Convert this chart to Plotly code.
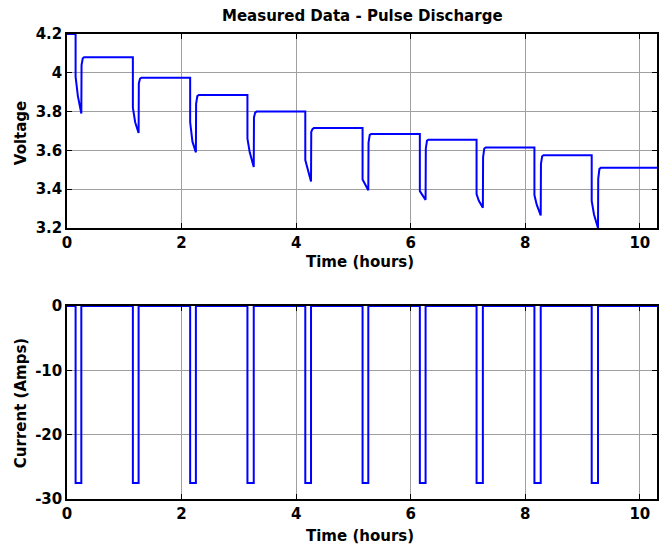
import plotly.graph_objects as go

# ---- data ----
pulse_start = [0.15, 1.15, 2.15, 3.15, 4.16, 5.16, 6.16, 7.15, 8.16, 9.16]   # hours
pulse_end   = [0.25, 1.25, 2.25, 3.26, 4.26, 5.26, 6.26, 7.26, 8.27, 9.27]   # hours
pulse_current = -27.5          # Amps during each pulse
rest_current = 0.0
t_final = 10.3

v_initial = 4.2
v_drop  = [3.98, 3.82, 3.745, 3.66, 3.55, 3.45, 3.39, 3.375, 3.37, 3.34]
v_knee  = [3.88, 3.745, 3.645, 3.59, 3.50, 3.425, 3.37, 3.34, 3.32, 3.27]
v_min   = [3.79, 3.69, 3.59, 3.515, 3.44, 3.395, 3.345, 3.305, 3.265, 3.20]
v_jump  = [4.04, 3.945, 3.84, 3.77, 3.695, 3.64, 3.61, 3.565, 3.53, 3.455]
v_near  = [4.075, 3.97, 3.88, 3.795, 3.71, 3.68, 3.65, 3.61, 3.57, 3.505]
v_rest  = [4.08, 3.975, 3.885, 3.80, 3.715, 3.685, 3.655, 3.615, 3.575, 3.51]

knee_dt = [0.04] * 10
jump_dt = [0.004] * 10
near_dt = [0.025] * 10
rest_dt = [0.05] * 10

y1_ticks = [3.2, 3.4, 3.6, 3.8, 4.0, 4.2]
y1_text = ["3.2", "3.4", "3.6", "3.8", "4", "4.2"]
y2_ticks = [-30, -20, -10, 0]
y2_text = ["-30", "-20", "-10", "0"]
x_ticks = [0, 2, 4, 6, 8, 10]
x_text = ["0", "2", "4", "6", "8", "10"]

# ---- build traces ----
tv, vv = [0.0], [v_initial]
prev = v_initial
for i in range(len(pulse_start)):
    s, e = pulse_start[i], pulse_end[i]
    tv += [s, s, s + knee_dt[i], e, e + jump_dt[i], e + near_dt[i], e + rest_dt[i]]
    vv += [prev, v_drop[i], v_knee[i], v_min[i], v_jump[i], v_near[i], v_rest[i]]
    prev = v_rest[i]
tv.append(t_final)
vv.append(prev)

ti, ii = [0.0], [rest_current]
for s, e in zip(pulse_start, pulse_end):
    ti += [s, s, e, e]
    ii += [rest_current, pulse_current, pulse_current, rest_current]
ti.append(t_final)
ii.append(rest_current)

BLUE = "#0000ff"
fig = go.Figure()
fig.add_trace(go.Scatter(x=tv, y=vv, mode="lines", line=dict(color=BLUE, width=2),
                         xaxis="x", yaxis="y", showlegend=False))
fig.add_trace(go.Scatter(x=ti, y=ii, mode="lines", line=dict(color=BLUE, width=2),
                         xaxis="x2", yaxis="y2", showlegend=False))

W, H = 668, 546
ML, MR, MT, MB = 67, 9, 34, 47
PW, PH = W - ML - MR, H - MT - MB

def px_x(px):
    return (px - ML) / PW

def px_y(py):
    return (H - MB - py) / PH

top_dom = [px_y(228), 1.0]
bot_dom = [0.0, px_y(306)]

FONT = "DejaVu Sans"
tickfont = dict(family=FONT, size=15, color="black", weight="bold")
axis_common = dict(
    showline=True, linecolor="black", linewidth=1.5, mirror="ticks",
    ticks="inside", ticklen=5, tickcolor="black", tickwidth=1,
    showgrid=True, gridcolor="#a0a0a0", gridwidth=1,
    zeroline=False, tickfont=tickfont,
)

fig.update_layout(
    width=W, height=H,
    margin=dict(l=ML, r=MR, t=MT, b=MB, pad=0),
    paper_bgcolor="white", plot_bgcolor="white",
    xaxis=dict(domain=[0, 1], range=[0, t_final], anchor="y",
               tickvals=x_ticks, ticktext=x_text, **axis_common),
    yaxis=dict(domain=top_dom, range=[3.2, 4.2], anchor="x",
               tickvals=y1_ticks, ticktext=y1_text, **axis_common),
    xaxis2=dict(domain=[0, 1], range=[0, t_final], anchor="y2",
                tickvals=x_ticks, ticktext=x_text, **axis_common),
    yaxis2=dict(domain=bot_dom, range=[-30, 0], anchor="x2",
                tickvals=y2_ticks, ticktext=y2_text, **axis_common),
)

lab = dict(family=FONT, size=15, color="black", weight="bold")
ann = [
    dict(text="Measured Data - Pulse Discharge", x=0.5, y=px_y(16)),
    dict(text="Time (hours)", x=px_x(361), y=px_y(262)),
    dict(text="Time (hours)", x=px_x(361), y=px_y(536)),
    dict(text="Voltage", x=px_x(21), y=px_y(133), textangle=-90),
    dict(text="Current (Amps)", x=px_x(21), y=px_y(403), textangle=-90),
]
for a in ann:
    fig.add_annotation(xref="paper", yref="paper", showarrow=False,
                       xanchor="center", yanchor="middle", font=lab, **a)

fig.write_html("out.html", config={"displayModeBar": False},
               post_script="document.body.style.margin='0';document.body.style.overflow='hidden';")
